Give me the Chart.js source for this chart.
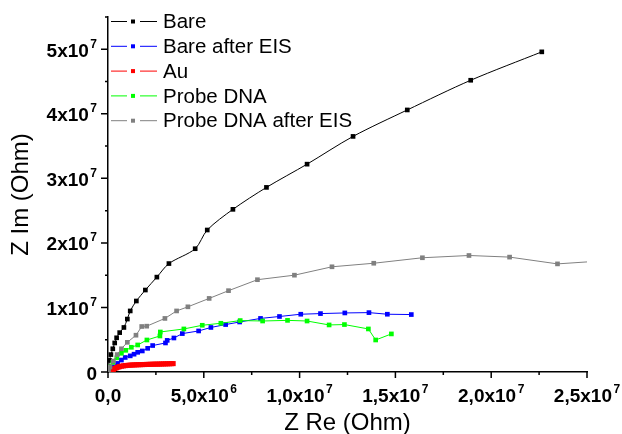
<!DOCTYPE html>
<html>
<head>
<meta charset="utf-8">
<script src="https://cdn.jsdelivr.net/npm/chart.js@4/dist/chart.umd.min.js"></script>
<style>
  html, body { margin: 0; padding: 0; background: #fff; }
  #wrap { width: 622px; height: 434px; position: relative; }
</style>
</head>
<body>
<div id="wrap"><canvas id="nyquist"></canvas></div>
<script>
// Values in units of 1e6 Ohm
const seriesNames = ['Bare', 'Bare after EIS', 'Au', 'Probe DNA', 'Probe DNA after EIS'];

const bareRe = [0.03, 0.08, 0.15, 0.25, 0.35, 0.45, 0.61, 0.83, 1.01, 1.16, 1.48, 1.95, 2.55, 3.18, 4.55, 5.18, 6.52, 8.27, 10.39, 12.79, 15.62, 18.93, 22.64];
const bareIm = [0.8, 1.8, 2.7, 3.6, 4.5, 5.3, 6.1, 6.9, 8.2, 9.46, 11.0, 12.7, 14.7, 16.8, 19.1, 22.0, 25.2, 28.6, 32.2, 36.5, 40.6, 45.2, 49.6];

const bareEisRe = [0.1, 0.28, 0.5, 0.7, 0.9, 1.16, 1.36, 1.55, 1.79, 2.07, 2.33, 3.0, 3.09, 3.44, 3.88, 4.73, 5.37, 6.14, 6.87, 7.96, 8.95, 10.06, 11.09, 12.36, 13.62, 14.58, 15.83];
const bareEisIm = [0.4, 0.8, 1.33, 1.85, 2.25, 2.5, 2.76, 3.05, 3.26, 3.67, 4.1, 4.5, 4.9, 5.27, 5.95, 6.36, 6.9, 7.35, 7.75, 8.3, 8.6, 8.95, 9.05, 9.15, 9.2, 8.95, 8.9];

const auRe = [0.2, 0.28, 0.36, 0.44, 0.52, 0.6, 0.7, 0.8, 0.9, 1.0, 1.1, 1.2, 1.3, 1.4, 1.5, 1.6, 1.7, 1.8, 1.9, 2.0, 2.1, 2.2, 2.3, 2.4, 2.5, 2.6, 2.7, 2.8, 2.9, 3.0, 3.1, 3.2, 3.3, 3.4];
const auIm = [0.2, 0.4, 0.55, 0.66, 0.75, 0.83, 0.9, 0.95, 0.99, 1.02, 1.05, 1.07, 1.09, 1.1, 1.12, 1.13, 1.14, 1.15, 1.16, 1.17, 1.18, 1.19, 1.2, 1.21, 1.22, 1.22, 1.23, 1.24, 1.25, 1.26, 1.27, 1.28, 1.29, 1.3];

const probeRe = [0.08, 0.25, 0.46, 0.7, 0.93, 1.22, 1.55, 2.03, 2.71, 2.73, 3.96, 4.92, 5.89, 6.9, 8.07, 9.37, 10.39, 11.54, 12.34, 13.59, 13.97, 14.79];
const probeIm = [0.8, 1.5, 2.2, 2.9, 3.36, 3.83, 4.19, 4.96, 5.58, 6.2, 6.67, 7.24, 7.55, 7.97, 7.9, 8.0, 7.9, 7.29, 7.35, 6.67, 4.96, 5.9];

const probeEisRe = [0.03, 0.1, 0.28, 0.48, 0.7, 1.01, 1.46, 1.76, 2.02, 2.97, 3.58, 4.17, 5.28, 6.29, 7.8, 9.73, 11.69, 13.87, 16.41, 18.84, 20.96, 23.46, 26.5];
const probeEisIm = [0.2, 0.8, 1.7, 2.7, 3.6, 4.6, 5.7, 7.05, 7.1, 8.3, 9.46, 10.1, 11.4, 12.6, 14.3, 15.0, 16.3, 16.85, 17.7, 18.05, 17.8, 16.75, 17.35];

const xTicks = [0, 5e6, 1e7, 1.5e7, 2e7, 2.5e7];
const xTickLabels = ['0,0', '5,0x10^6', '1,0x10^7', '1,5x10^7', '2,0x10^7', '2,5x10^7'];
const xMinorTicks = [2.5e6, 7.5e6, 1.25e7, 1.75e7, 2.25e7];
const yTicks = [0, 1e7, 2e7, 3e7, 4e7, 5e7];
const yTickLabels = ['0', '1x10^7', '2x10^7', '3x10^7', '4x10^7', '5x10^7'];
const yMinorTicks = [5e6, 1.5e7, 2.5e7, 3.5e7, 4.5e7, 5.5e7];

/* ---------- styles ---------- */
const colors = ['#000000', '#0000ff', '#ff0000', '#00ff00', '#808080'];
const FONT = '"Liberation Sans", Arial, sans-serif';
const MEGA = 1e6;

function toPoints(re, im) {
  return re.map((v, i) => ({ x: v * MEGA, y: im[i] * MEGA }));
}

const allSeries = [
  toPoints(bareRe, bareIm),
  toPoints(bareEisRe, bareEisIm),
  toPoints(auRe, auIm),
  toPoints(probeRe, probeIm),
  toPoints(probeEisRe, probeEisIm)
];

// tick label with a raised exponent, e.g. "5x10^7"
function drawSci(ctx, text, x, baseline, align) {
  const parts = text.split('^');
  ctx.font = 'bold 19px ' + FONT;
  const wb = ctx.measureText(parts[0]).width;
  let we = 0;
  if (parts[1]) {
    ctx.font = 'bold 12px ' + FONT;
    we = ctx.measureText(parts[1]).width + 1.5;
  }
  const total = wb + we;
  const x0 = align === 'center' ? x - total / 2 : x - total;
  ctx.textAlign = 'left';
  ctx.textBaseline = 'alphabetic';
  ctx.font = 'bold 19px ' + FONT;
  ctx.fillText(parts[0], x0, baseline);
  if (parts[1]) {
    ctx.font = 'bold 12px ' + FONT;
    ctx.fillText(parts[1], x0 + wb + 1.5, baseline - 9);
  }
}

const axesPlugin = {
  id: 'originAxes',
  afterDraw(chart) {
    const { ctx, chartArea: a, scales: { x, y } } = chart;
    ctx.save();
    ctx.strokeStyle = '#000';
    ctx.lineWidth = 1.5;
    ctx.beginPath();
    xTicks.forEach(v => { const p = x.getPixelForValue(v); ctx.moveTo(p, a.bottom); ctx.lineTo(p, a.bottom + 6); });
    xMinorTicks.forEach(v => { const p = x.getPixelForValue(v); ctx.moveTo(p, a.bottom); ctx.lineTo(p, a.bottom + 3); });
    yTicks.forEach(v => { const p = y.getPixelForValue(v); ctx.moveTo(a.left, p); ctx.lineTo(a.left - 7, p); });
    yMinorTicks.forEach(v => { const p = y.getPixelForValue(v); ctx.moveTo(a.left, p); ctx.lineTo(a.left - 3, p); });
    ctx.stroke();

    ctx.fillStyle = '#000';
    xTickLabels.forEach((t, i) => drawSci(ctx, t, x.getPixelForValue(xTicks[i]), a.bottom + 30, 'center'));
    yTickLabels.forEach((t, i) => drawSci(ctx, t, a.left - 11, y.getPixelForValue(yTicks[i]) + 7.5, 'right'));

    // axis titles
    ctx.font = '24px ' + FONT;
    ctx.textAlign = 'center';
    ctx.textBaseline = 'alphabetic';
    ctx.fillText('Z Re (Ohm)', (a.left + a.right) / 2, 430);
    ctx.save();
    ctx.translate(28, (a.top + a.bottom) / 2);
    ctx.rotate(-Math.PI / 2);
    ctx.fillText('Z Im (Ohm)', 0, 0);
    ctx.restore();

    // legend: line - marker - line, then name
    ctx.font = '20.5px ' + FONT;
    ctx.textAlign = 'left';
    ctx.textBaseline = 'middle';
    seriesNames.forEach((name, i) => {
      const cy = 21.5 + 24.8 * i;
      ctx.strokeStyle = colors[i];
      ctx.lineWidth = 1;
      ctx.beginPath();
      ctx.moveTo(111, cy); ctx.lineTo(127, cy);
      ctx.moveTo(140, cy); ctx.lineTo(157, cy);
      ctx.stroke();
      ctx.fillStyle = colors[i];
      ctx.fillRect(131, cy - 2, 4, 4);
      ctx.fillStyle = '#000';
      ctx.fillText(name, 163, cy + 1);
    });
    ctx.restore();
  }
};

new Chart(document.getElementById('nyquist'), {
  type: 'scatter',
  data: {
    datasets: allSeries.map((pts, i) => ({
      label: seriesNames[i],
      data: pts,
      showLine: true,
      borderColor: colors[i],
      backgroundColor: colors[i],
      borderWidth: 1,
      pointStyle: 'rect',
      pointRadius: i === 2 ? 3.6 : 3.3,
      pointBorderWidth: 0,
      tension: i === 0 ? 0.3 : 0,
      order: 4 - i
    }))
  },
  options: {
    responsive: true,
    maintainAspectRatio: false,
    animation: false,
    layout: { padding: { top: 17, right: 35, left: 0, bottom: 0 } },
    plugins: { legend: { display: false }, tooltip: { enabled: false } },
    scales: {
      x: {
        type: 'linear', min: 0, max: 2.5e7,
        ticks: { display: false, stepSize: 5e6 },
        grid: { display: false },
        border: { display: true, color: '#000', width: 1.5 },
        afterFit: s => { s.height = 62; }
      },
      y: {
        type: 'linear', min: 0, max: 5.5e7,
        ticks: { display: false, stepSize: 1e7 },
        grid: { display: false },
        border: { display: true, color: '#000', width: 1.5 },
        afterFit: s => { s.width = 108; }
      }
    }
  },
  plugins: [axesPlugin]
});
</script>
</body>
</html>
